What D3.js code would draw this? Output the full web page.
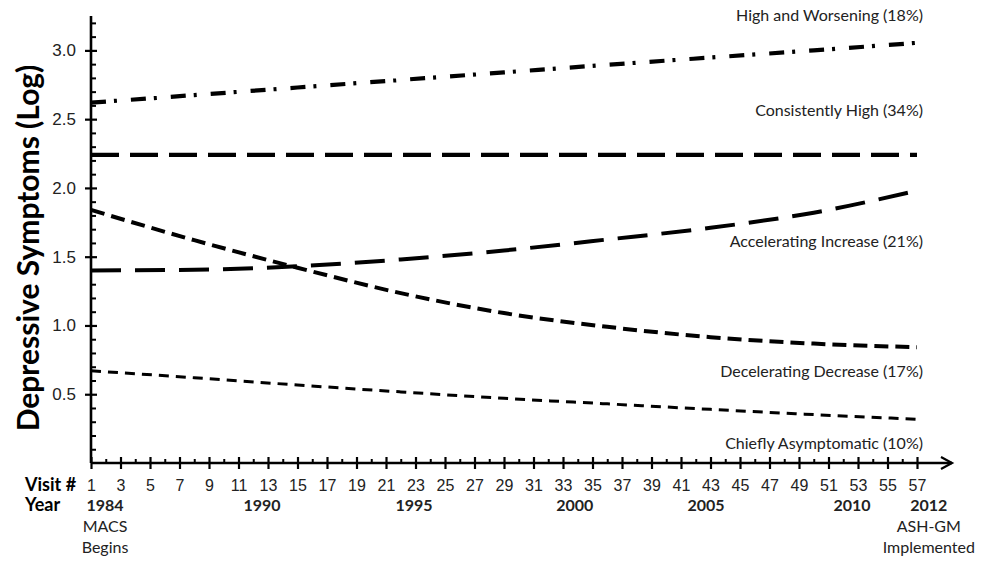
<!DOCTYPE html>
<html>
<head>
<meta charset="utf-8">
<script src="https://cdn.jsdelivr.net/npm/d3@7"></script>
<style>
  body { margin: 0; background: #fff; }
  svg { font-family: Lato, "Open Sans", sans-serif; }
</style>
</head>
<body>
<div id="chart"></div>
<script>
const visits = [1, 8, 15, 22, 29, 36, 43, 50, 57];

const highWorsening = [2.62, 2.675, 2.73, 2.785, 2.84, 2.895, 2.948, 3.0, 3.055];
const consistentlyHigh = [2.24, 2.24, 2.24, 2.24, 2.24, 2.24, 2.24, 2.24, 2.24];
const accelIncrease = [1.40, 1.405, 1.43, 1.48, 1.545, 1.625, 1.71, 1.82, 1.98];
const decelDecrease = [1.84, 1.62, 1.42, 1.235, 1.09, 0.99, 0.915, 0.868, 0.842];
const chieflyAsym = [0.67, 0.62, 0.567, 0.517, 0.47, 0.43, 0.39, 0.352, 0.318];

const seriesNames = [
  "High and Worsening (18%)",
  "Consistently High (34%)",
  "Accelerating Increase (21%)",
  "Decelerating Decrease (17%)",
  "Chiefly Asymptomatic (10%)"
];

const yMajorTicks = [0.5, 1.0, 1.5, 2.0, 2.5, 3.0];
const yMinorTicks = [0.1,0.2,0.3,0.4,0.6,0.7,0.8,0.9,1.1,1.2,1.3,1.4,1.6,1.7,1.8,1.9,2.1,2.2,2.3,2.4,2.6,2.7,2.8,2.9,3.1,3.2];
const visitTicks = d3.range(1, 58, 2);
const visitMinor = d3.range(2, 57, 2);

const yearLabels = ["1984", "1990", "1995", "2000", "2005", "2010", "2012"];
const yearAtVisit = [1.95, 12.6, 22.9, 33.8, 42.7, 52.6, 57.8];

const W = 981, H = 562;
const svg = d3.select("#chart").append("svg").attr("width", W).attr("height", H);

const x = d3.scaleLinear().domain([1, 57]).range([91, 917]);
const y = d3.scaleLinear().domain([0, 3.25]).range([463, 16]);

// ---- y axis
const gy = svg.append("g").attr("transform", "translate(91,0)");
gy.call(d3.axisLeft(y).tickValues(yMajorTicks).tickSize(6).tickSizeOuter(0).tickFormat(d3.format(".1f")));
gy.select(".domain").remove();
gy.selectAll(".tick line").attr("x1", 6).attr("stroke-width", 2.2);
gy.selectAll(".tick text").attr("x", -15).style("font-size", "17px").attr("fill", "#222");

const gyMinor = svg.append("g").attr("transform", "translate(91,0)");
gyMinor.call(d3.axisRight(y).tickValues(yMinorTicks).tickSize(5).tickFormat(""));
gyMinor.select(".domain").remove();
gyMinor.selectAll(".tick line").attr("stroke-width", 2);

svg.append("line")
  .attr("x1", 91).attr("x2", 91).attr("y1", 16).attr("y2", y(0))
  .attr("stroke", "#000").attr("stroke-width", 2.6);

// ---- x axis
const gx = svg.append("g").attr("transform", "translate(0,463)");
gx.call(d3.axisBottom(x).tickValues(visitTicks).tickSize(6).tickSizeOuter(0));
gx.select(".domain").remove();
gx.selectAll(".tick line").attr("y1", -6).attr("stroke-width", 2.2);
gx.selectAll(".tick text").attr("y", 22).attr("dy", "0.35em").style("font-size", "16px").attr("fill", "#222");

const gxMinor = svg.append("g").attr("transform", "translate(0,463)");
gxMinor.call(d3.axisTop(x).tickValues(visitMinor).tickSize(4).tickFormat(""));
gxMinor.select(".domain").remove();
gxMinor.selectAll(".tick line").attr("stroke-width", 2);

const axEnd = x(57) + 35;
svg.append("line")
  .attr("x1", 91).attr("x2", axEnd).attr("y1", 463).attr("y2", 463)
  .attr("stroke", "#000").attr("stroke-width", 2.6);
svg.append("path")
  .attr("d", `M${axEnd - 11},${463 - 6}L${axEnd},463L${axEnd - 11},${463 + 6}`)
  .attr("fill", "none").attr("stroke", "#000").attr("stroke-width", 2.2);

// year labels
svg.append("g").selectAll("text")
  .data(yearLabels)
  .join("text")
  .attr("x", (d, i) => x(yearAtVisit[i]))
  .attr("y", 505)
  .attr("dy", "0.35em")
  .attr("text-anchor", "middle")
  .style("font-size", "16px")
  .style("font-weight", "bold")
  .attr("fill", "#222")
  .text(d => d);

svg.append("text").attr("x", 25).attr("y", 485).attr("dy", "0.35em")
  .style("font-size", "18px").style("font-weight", "bold").text("Visit #");
svg.append("text").attr("x", 25).attr("y", 505).attr("dy", "0.35em")
  .style("font-size", "18px").style("font-weight", "bold").text("Year");

const notes = [["MACS", "Begins", 1.95], ["ASH-GM", "Implemented", 57.8]];
notes.forEach(n => {
  [n[0], n[1]].forEach((t, k) => {
    svg.append("text")
      .attr("x", x(n[2]))
      .attr("y", 526 + k * 21)
      .attr("dy", "0.35em")
      .attr("text-anchor", "middle")
      .style("font-size", "16px")
      .attr("fill", "#222")
      .text(t);
  });
});

// y title
svg.append("text")
  .attr("transform", "translate(28,248) rotate(-90)")
  .attr("text-anchor", "middle")
  .attr("dy", "0.35em")
  .style("font-size", "30px")
  .style("font-weight", "bold")
  .text("Depressive Symptoms (Log)");

// ---- trajectories
const allSeries = [highWorsening, consistentlyHigh, accelIncrease, decelDecrease, chieflyAsym];
const styles = [
  { dash: "15,8,3,14", w: 4.2 },
  { dash: "28,11", w: 4.2 },
  { dash: "30,14", w: 4 },
  { dash: "14,7", w: 4 },
  { dash: "10,7", w: 3 }
];

const line = d3.line()
  .x(d => x(d[0]))
  .y(d => y(d[1]))
  .curve(d3.curveMonotoneX);

allSeries.forEach((vals, i) => {
  svg.append("path")
    .datum(visits.map((v, j) => [v, vals[j]]))
    .attr("d", line)
    .attr("fill", "none")
    .attr("stroke", "#000")
    .attr("stroke-width", styles[i].w)
    .attr("stroke-dasharray", styles[i].dash);
});

// series labels (value on y scale where each label sits)
const labelAt = [3.256, 2.566, 1.61, 0.666, 0.142];
svg.append("g").selectAll("text")
  .data(seriesNames)
  .join("text")
  .attr("x", 923)
  .attr("y", (d, i) => y(labelAt[i]))
  .attr("dy", "0.35em")
  .attr("text-anchor", "end")
  .style("font-size", "16px")
  .attr("fill", "#222")
  .text(d => d);
</script>
</body>
</html>
